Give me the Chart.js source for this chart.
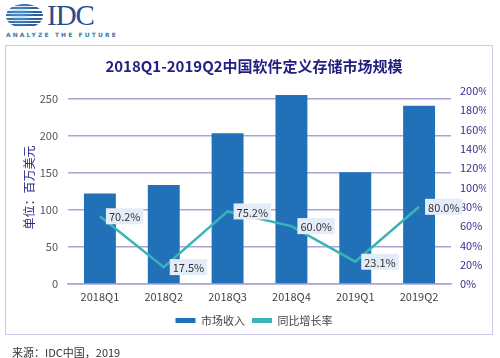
<!DOCTYPE html>
<html>
<head>
<meta charset="utf-8">
<script src="https://cdn.jsdelivr.net/npm/chart.js@4.4.0/dist/chart.umd.min.js"></script>
<style>
  body { margin: 0; background: #fff; font-family: "Noto Sans CJK SC", "Noto Sans", sans-serif; }
  #page { position: relative; width: 500px; height: 358px; overflow: hidden; }
  #frame { position: absolute; left: 5px; top: 45px; width: 486px; height: 288px; border: 1px solid #cfc8ee; }
  #box { position: absolute; left: 0; top: 0; width: 500px; height: 358px; }
  #globe { position: absolute; left: 6px; top: 4px; width: 37px; height: 24px; border-radius: 50%;
    background: repeating-linear-gradient(to bottom, #2d5f9e 0 2px, #fff 2px 3.4px); }
  #globe:after { content: ''; position: absolute; left: 0; top: 0; right: 0; bottom: 0; border-radius: 50%;
    background: radial-gradient(circle at 35% 40%, rgba(120,190,230,0.55), rgba(255,255,255,0) 60%); }
  #idc { position: absolute; left: 47px; top: -1px; font: 29px "Liberation Serif", serif; color: #2b4d8c; letter-spacing: -1px; }
  #tag { position: absolute; left: 6px; top: 31px; font: bold 6px "DejaVu Sans", sans-serif; color: #3d78a6; letter-spacing: 2.1px; }
  #src { position: absolute; left: 12px; top: 344px; font-size: 11px; color: #333; }
</style>
</head>
<body>
<div id="page">
  <div id="globe"></div>
  <div id="idc">IDC</div>
  <div id="tag">ANALYZE THE FUTURE</div>
  <div id="frame"></div>
  <div id="box"><canvas id="sds"></canvas></div>
  <div id="src">来源：IDC中国，2019</div>
</div>
<script>
const quarters = ['2018Q1', '2018Q2', '2018Q3', '2018Q4', '2019Q1', '2019Q2'];
const revenue = [122, 133.5, 203, 254.5, 150.5, 240];
const growth = [70.2, 17.5, 75.2, 60.0, 23.1, 80.0];
const leftTicks = [0, 50, 100, 150, 200, 250];

const cjk = '"Noto Sans CJK SC", "Noto Sans", sans-serif';

// boxed percentage labels next to the line points
const rateLabels = {
    id: 'rateLabels',
    afterDatasetsDraw(chart) {
        const c = chart.ctx;
        const meta = chart.getDatasetMeta(1);
        c.save();
        c.font = '11px ' + cjk;
        c.textBaseline = 'middle';
        meta.data.forEach((pt, i) => {
            const txt = growth[i].toFixed(1) + '%';
            const w = c.measureText(txt).width + 6;
            const x = pt.x + 6, y = pt.y;
            c.fillStyle = '#e3ecf7';
            c.fillRect(x, y - 8, w, 16);
            c.fillStyle = '#333';
            c.fillText(txt, x + 3, y + 1);
        });
        c.restore();
    }
};

const ctx = document.getElementById('sds').getContext('2d');
const sdsChart = new Chart(ctx, {
    data: {
        labels: quarters,
        datasets: [
            {
                type: 'bar',
                label: '市场收入',
                data: revenue,
                backgroundColor: '#2271b8',
                barPercentage: 0.5,
                categoryPercentage: 1,
                yAxisID: 'y',
                order: 2,
            },
            {
                type: 'line',
                label: '同比增长率',
                data: growth,
                borderColor: '#3ab4b8',
                backgroundColor: '#3ab4b8',
                borderWidth: 2.5,
                pointRadius: 0,
                tension: 0,
                yAxisID: 'y1',
                order: 1,
            },
        ],
    },
    options: {
        responsive: true,
        maintainAspectRatio: false,
        animation: false,
        layout: { padding: { left: 22, right: 14, top: 0, bottom: 22 } },
        scales: {
            x: {
                grid: { display: false, drawTicks: false },
                border: { display: true, color: '#aaa3d4', width: 1.5 },
                ticks: { color: '#444', font: { size: 11, family: cjk }, padding: 6 },
                afterFit: s => { s.height = 24; },
            },
            y: {
                position: 'left',
                min: 0,
                max: 260,
                afterBuildTicks: s => { s.ticks = leftTicks.map(v => ({ value: v })); },
                ticks: { color: '#555', font: { size: 11, family: cjk }, padding: 10 },
                grid: { color: '#aaa3d4', lineWidth: 1.5, drawTicks: false },
                border: { display: false },
                title: { display: true, text: '单位：百万美元', color: '#2b2a8a', font: { size: 12, family: cjk }, padding: { top: 0, bottom: 2 } },
                afterFit: s => { s.width = 46; },
            },
            y1: {
                position: 'right',
                min: 0,
                max: 200,
                ticks: { stepSize: 20, color: '#3a2f8f', font: { size: 11, family: cjk }, padding: 9, callback: v => v + '%' },
                grid: { display: false, drawTicks: false },
                border: { display: false },
                afterFit: s => { s.width = 35; },
            },
        },
        plugins: {
            title: {
                display: true,
                text: '2018Q1-2019Q2中国软件定义存储市场规模',
                color: '#231f80',
                font: { size: 15, weight: 'bold', family: cjk },
                padding: { top: 57, bottom: 16 },
            },
            legend: {
                position: 'bottom',
                labels: {
                    boxWidth: 20,
                    boxHeight: 5,
                    color: '#444',
                    font: { size: 11, family: cjk },
                    padding: 7,
                    generateLabels: chart => chart.data.datasets.map((d, i) => ({
                        text: d.label,
                        fillStyle: d.type === 'bar' ? d.backgroundColor : d.borderColor,
                        strokeStyle: d.type === 'bar' ? d.backgroundColor : d.borderColor,
                        lineWidth: 0,
                        fontColor: '#444',
                        datasetIndex: i,
                    })),
                },
            },
            tooltip: { enabled: false },
        },
    },
    plugins: [rateLabels],
});
</script>
</body>
</html>
